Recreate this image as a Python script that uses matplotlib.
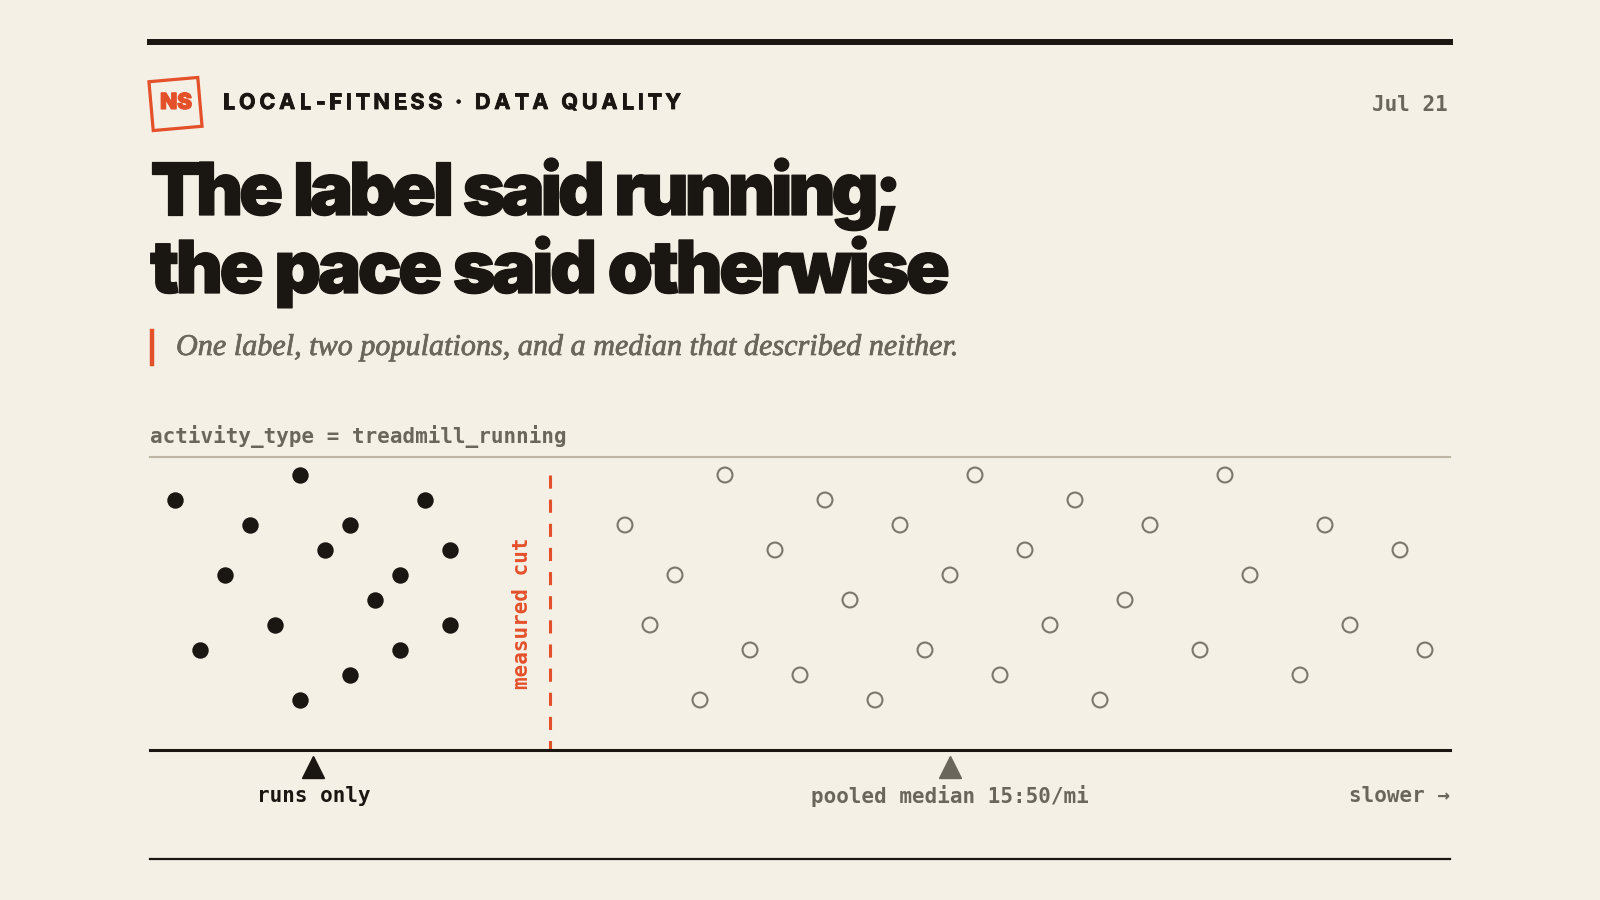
import matplotlib.pyplot as plt
import matplotlib.transforms as mtransforms
import matplotlib.patheffects as pe
from matplotlib.patches import Rectangle
from matplotlib.lines import Line2D

W, H = 1600, 900
BG = "#f4f0e6"
INK = "#1a1712"
GREY = "#6b665b"
RULE = "#bdb6a6"
ORANGE = "#e4502a"
RING = "#7d776b"

# pace in seconds per mile, lane = jitter row (0 is the top row)
run_pace = [485, 500, 515, 530, 545, 560, 560, 575, 590, 590, 605, 620, 620, 635, 650, 650]
run_lane = [1, 7, 4, 2, 6, 0, 9, 3, 2, 8, 5, 4, 7, 1, 3, 6]

walk_pace = [755, 770, 785, 800, 815, 830, 845, 860, 875, 890, 905, 920, 935, 950, 965,
             980, 995, 1010, 1025, 1040, 1055, 1070, 1100, 1115, 1130, 1160, 1175, 1190, 1220, 1235]
walk_lane = [2, 6, 4, 9, 0, 7, 3, 8, 1, 5, 9, 2, 7, 4, 0,
             8, 3, 6, 1, 9, 5, 2, 7, 0, 4, 8, 2, 6, 3, 7]

cut_pace = 710        # 11:50/mi
runs_median = 568     # runs only
pooled_median = 950   # 15:50/mi
pace_min, pace_max = 470, 1250

fig = plt.figure(figsize=(16, 9), dpi=100, facecolor=BG)
renderer = fig.canvas.get_renderer()


def fx(px):
    return px / W


def fy(py):
    return 1 - py / H


_adv = {}


def advance(ch, **kw):
    key = (ch, tuple(sorted((k, str(v)) for k, v in kw.items() if k != "path_effects")))
    if key not in _adv:
        a = fig.text(0, 0, "x" + ch + "x", **kw)
        b = fig.text(0, 0, "xx", **kw)
        _adv[key] = a.get_window_extent(renderer).width - b.get_window_extent(renderer).width
        a.remove()
        b.remove()
    return _adv[key]


def spaced(x, y, s, width, word_gap=0, **kw):
    # letter-spaced text stretched to a given pixel width
    advs = [advance(c, **kw) for c in s]
    last = fig.text(0, 0, s[-1], **kw)
    lw = last.get_window_extent(renderer).width
    last.remove()
    n_sp = s.count(" ")
    track = (width - sum(advs[:-1]) - lw - n_sp * word_gap) / (len(s) - 1)
    for c, a in zip(s, advs):
        if c != " ":
            fig.text(fx(x), fy(y), c, **kw)
        else:
            x += word_gap
        x += a + track


def fitted(x, y, s, width, size, **kw):
    t = fig.text(fx(x), fy(y), s, fontsize=size, **kw)
    w = t.get_window_extent(renderer).width
    t.set_fontsize(size * width / w)
    return t


# top and bottom rules
fig.add_artist(Line2D([fx(150), fx(1450)], [fy(42), fy(42)], color=INK, lw=4.3))
fig.add_artist(Line2D([fx(150), fx(1450)], [fy(859), fy(859)], color=INK, lw=1.6))

# logo
box = Rectangle((1.51, 7.715), 0.49, 0.49, fill=False, ec=ORANGE, lw=2.3,
                transform=mtransforms.Affine2D().rotate_deg_around(1.755, 7.96, 5) + fig.dpi_scale_trans)
fig.add_artist(box)
fig.text(fx(176), fy(103), "NS", color=ORANGE, fontsize=16, fontweight="black",
         family="Inter", ha="center", va="center",
         path_effects=[pe.withStroke(linewidth=0.8, foreground=ORANGE)])

spaced(223, 103, "LOCAL-FITNESS · DATA QUALITY", 458, color=INK, fontsize=15.5,
       fontweight="bold", family="Inter", va="center",
       path_effects=[pe.withStroke(linewidth=0.6, foreground=INK)])
fig.text(fx(1448), fy(105), "Jul 21", color=GREY, fontsize=15, fontweight="bold",
         family="DejaVu Sans Mono", ha="right", va="center")

# title
heavy = [pe.withStroke(linewidth=0.9, foreground=INK)]
spaced(150, 215, "The label said running;", 752, word_gap=3, color=INK, fontsize=52.5,
       fontweight="black", family="Inter", va="baseline", path_effects=heavy)
spaced(150, 293, "the pace said otherwise", 800, word_gap=3, color=INK, fontsize=52.5,
       fontweight="black", family="Inter", va="baseline", path_effects=heavy)

# subtitle
fig.add_artist(Line2D([fx(152), fx(152)], [fy(331), fy(364)], color=ORANGE, lw=3.2))
fitted(176, 348, "One label, two populations, and a median that described neither.", 781, 22,
       color=GREY, style="italic", family="Liberation Serif", va="center",
       path_effects=[pe.withStroke(linewidth=0.5, foreground=GREY)])

fig.text(fx(150), fy(436), "activity_type = treadmill_running", color=GREY, fontsize=15,
         fontweight="bold", family="DejaVu Sans Mono", va="center")

# strip chart
ax = fig.add_axes([fx(150), fy(750), fx(1450) - fx(150), (750 - 457) / H])
ax.set_facecolor(BG)
ax.set_xlim(pace_min, pace_max)
ax.set_ylim(11, -0.72)
ax.set_xticks([])
ax.set_yticks([])
for side in ["left", "right"]:
    ax.spines[side].set_visible(False)
ax.spines["top"].set_color(RULE)
ax.spines["top"].set_linewidth(1.5)
ax.spines["bottom"].set_color(INK)
ax.spines["bottom"].set_linewidth(2.2)

ax.scatter(walk_pace, walk_lane, s=115, facecolor="none", edgecolor=RING, linewidth=1.5, zorder=3)
ax.scatter(run_pace, run_lane, s=140, color=INK, linewidth=0, zorder=3)

ax.plot([cut_pace, cut_pace], [0, 11], color=ORANGE, lw=2.2, dashes=(4.3, 3.6), zorder=2)
ax.text(cut_pace - 17, 5.52, "measured cut", rotation=90, color=ORANGE, fontsize=15,
        fontweight="bold", family="DejaVu Sans Mono", ha="center", va="center")

ax.plot([runs_median], [11.68], marker="^", ms=16, color=INK, clip_on=False, lw=0)
ax.plot([pooled_median], [11.68], marker="^", ms=16, color=GREY, clip_on=False, lw=0)
ax.text(runs_median, 12.84, "runs only", color=INK, fontsize=15, fontweight="bold",
        family="DejaVu Sans Mono", ha="center", va="center")
ax.text(pooled_median, 12.84, "pooled median 15:50/mi", color=GREY, fontsize=15,
        fontweight="bold", family="DejaVu Sans Mono", ha="center", va="center")
ax.text(pace_max, 12.84, "slower →", color=GREY, fontsize=15, fontweight="bold",
        family="DejaVu Sans Mono", ha="right", va="center")

fig.savefig("out.png", dpi=100, facecolor=BG)
